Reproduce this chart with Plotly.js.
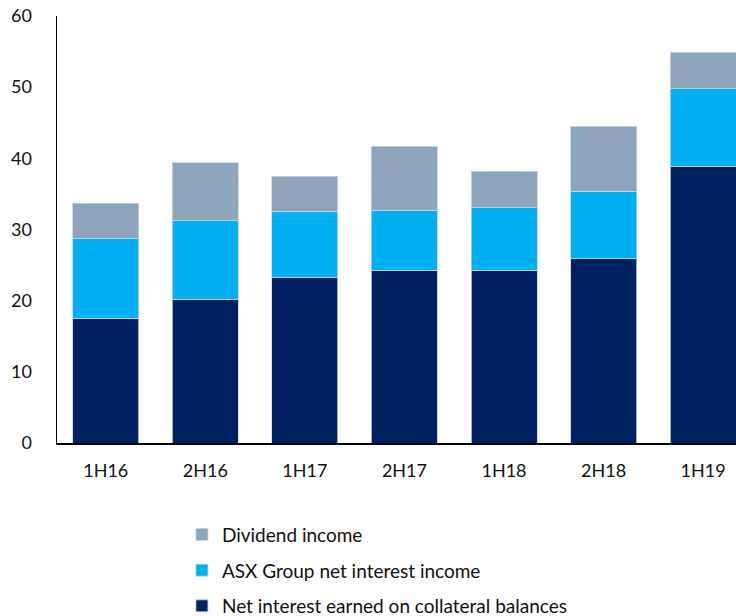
<!DOCTYPE html>
<html>
<head>
<meta charset="utf-8">
<script src="https://cdn.plot.ly/plotly-3.0.1.min.js"></script>
<style>html,body{margin:0;padding:0;background:#fff}#chart{width:736px;height:616px}</style>
</head>
<body>
<div id="chart"></div>
<script>
const categories = ["1H16", "2H16", "1H17", "2H17", "1H18", "2H18", "1H19"];
const netInterestCollateral = [17.5, 20.2, 23.2, 24.3, 24.3, 25.9, 38.9];
const asxNetInterest = [11.3, 11.0, 9.4, 8.4, 8.75, 9.5, 10.9];
const dividendIncome = [4.9, 8.2, 4.9, 9.0, 5.15, 9.1, 5.1];
const yTicks = [0, 10, 20, 30, 40, 50, 60];

const font = {family: "Lato, 'Open Sans', sans-serif", size: 18, color: "#111"};
const legendFont = {family: "Lato, 'Open Sans', sans-serif", size: 19, color: "#111"};
const edge = {color: "rgba(200,210,225,0.8)", width: 1};

const traces = [
  {name: "Net interest earned on collateral balances", x: categories, y: netInterestCollateral,
   type: "bar", marker: {color: "#002060", line: edge}, legendgroup: "a", legendrank: 3},
  {name: "ASX Group net interest income", x: categories, y: asxNetInterest,
   type: "bar", marker: {color: "#00B0F0", line: edge}, legendgroup: "b", legendrank: 2},
  {name: "Dividend income", x: categories, y: dividendIncome,
   type: "bar", marker: {color: "#8EA4BA", line: edge}, legendgroup: "c", legendrank: 1}
];

const layout = {
  width: 736, height: 616,
  margin: {l: 57, r: 0, t: 16, b: 173, pad: 0, autoexpand: false},
  barmode: "stack",
  bargap: 0.337,
  paper_bgcolor: "#fff", plot_bgcolor: "#fff",
  font: font,
  showlegend: true,
  legend: {
    x: 0.184, xanchor: "left", y: -0.17, yanchor: "top",
    traceorder: "grouped", tracegroupgap: 8,
    font: legendFont, bgcolor: "rgba(0,0,0,0)"
  },
  xaxis: {
    type: "category", range: [-0.49, 6.33],
    showgrid: false, zeroline: false,
    showline: true, linecolor: "#000", linewidth: 1.5,
    ticks: "", ticklabelstandoff: 11,
    tickfont: font
  },
  yaxis: {
    range: [0, 60], tickvals: yTicks, ticktext: yTicks.map(String),
    showgrid: false, zeroline: false,
    showline: true, linecolor: "#000", linewidth: 1.5,
    ticks: "", ticklabelstandoff: 20,
    tickfont: font
  }
};

Plotly.newPlot("chart", traces, layout, {displayModeBar: false, staticPlot: true});
</script>
</body>
</html>
